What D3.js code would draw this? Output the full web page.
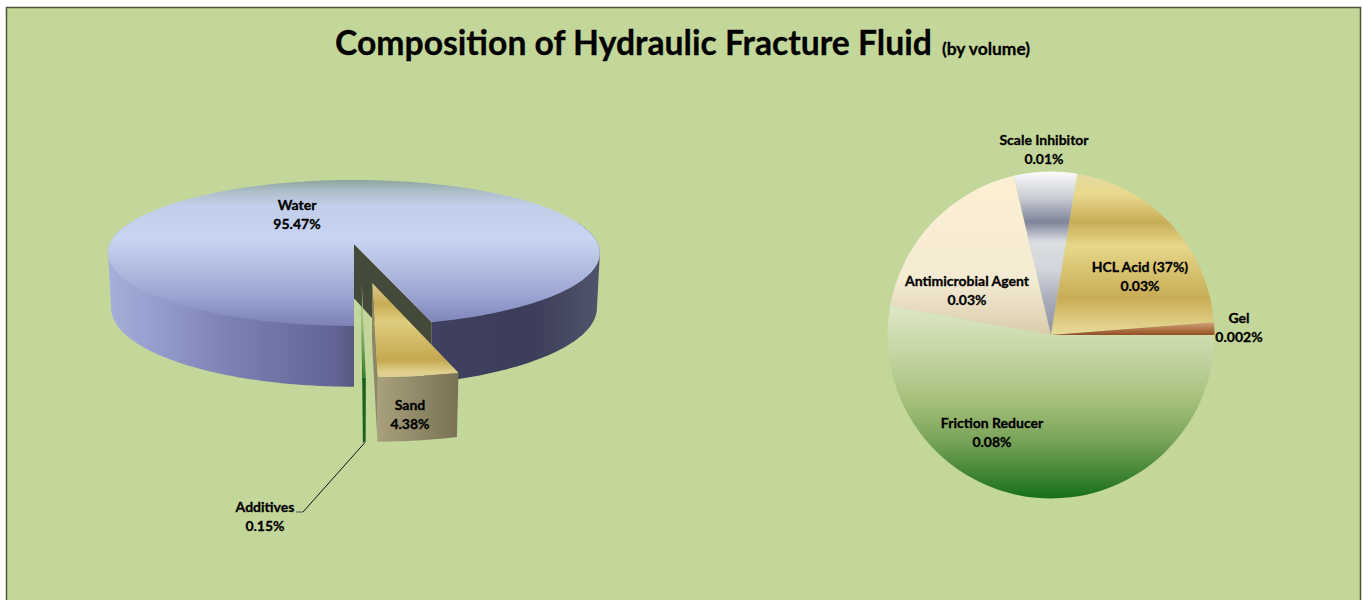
<!DOCTYPE html>
<html>
<head>
<meta charset="utf-8">
<script src="https://cdn.jsdelivr.net/npm/d3@7"></script>
<style>
  html, body { margin: 0; padding: 0; background: #fff; overflow: hidden; }
  text { font-family: Lato, "Open Sans", sans-serif; font-weight: 700; fill: #000; stroke: #000; stroke-width: 0.3px; }
</style>
</head>
<body>
<div id="chart"></div>
<script>
// values
var mainNames = ["Water", "Sand", "Additives"];
var mainValues = [95.47, 4.38, 0.15];
var mainLabels = ["95.47%", "4.38%", "0.15%"];

// the printed labels are rounded, slice sizes estimated from the slice angles
var addNames = ["Friction Reducer", "Antimicrobial Agent", "Scale Inhibitor", "HCL Acid (37%)", "Gel"];
var addValues = [0.0804, 0.0281, 0.0095, 0.0322, 0.0019];
var addLabels = ["0.08%", "0.03%", "0.01%", "0.03%", "0.002%"];

var width = 1362, height = 600;

var svg = d3.select("#chart").append("svg")
  .attr("width", width)
  .attr("height", height);
var defs = svg.append("defs");

function gradient(id, x1, y1, x2, y2, stops) {
  var g = defs.append("linearGradient")
    .attr("id", id)
    .attr("gradientUnits", "userSpaceOnUse")
    .attr("x1", x1).attr("y1", y1).attr("x2", x2).attr("y2", y2);
  stops.forEach(function(s) {
    g.append("stop")
      .attr("offset", (s[0] - (y2 != y1 ? y1 : x1)) / (y2 != y1 ? y2 - y1 : x2 - x1))
      .attr("stop-color", s[1]);
  });
  return "url(#" + id + ")";
}

// background panel, no bottom line in the original
svg.append("rect")
  .attr("x", 6.5).attr("y", 7.5)
  .attr("width", 1354).attr("height", 640)
  .attr("fill", "#c4d79b")
  .attr("stroke", "#4c573a")
  .attr("stroke-width", 1.5);

// title
var title = svg.append("text").attr("x", 335).attr("y", 55).attr("font-size", 33.7);
title.append("tspan").text("Composition of Hydraulic Fracture Fluid");
title.append("tspan").attr("dx", 10).attr("font-size", 17.4).text("(by volume)");

// ---- left pie, perspective view of a disc
var cx = 354, cy = 244;
var bx = 244, ay = 71.9, persp = 0.123, depth = 55, depthPersp = 0.012;

// u,v on the unit disc (v towards the viewer), z 0 = top face, 1 = bottom face
function project(u, v, z) {
  var d = 1 - persp * v + depthPersp * z;
  return [cx + bx * u / d, cy + (ay * v + depth * z) / d];
}

var mainPie = d3.pie().sort(null).startAngle(Math.PI).endAngle(3 * Math.PI)(mainValues);
// exploded offset on the disc for each slice
var explode = [[0, 0], [0.07, 0.508], [0.03, 0.514]];

function rim(a0, a1, i, z) {
  var n = Math.max(2, Math.ceil((a1 - a0) * 40));
  return d3.range(n + 1).map(function(k) {
    var a = a0 + (a1 - a0) * k / n;
    return project(Math.sin(a) + explode[i][0], -Math.cos(a) + explode[i][1], z);
  });
}
function apex(i, z) {
  return project(explode[i][0], explode[i][1], z);
}
var line = d3.line().curve(d3.curveLinear);
function poly(pts) { return line(pts) + "Z"; }

function edge(angle, i, z) {
  return project(Math.sin(angle) + explode[i][0], -Math.cos(angle) + explode[i][1], z);
}
// wall between top and bottom rim, as a convex shape so the silhouette is right
function wall(a0, a1, i) {
  return poly(d3.polygonHull(rim(a0, a1, i, 0).concat(rim(a0, a1, i, 1))));
}

var waterTop = gradient("waterTop", 0, 180, 0, 327, [
  [180, "#8ea59c"], [192, "#aebfca"], [206, "#c2cfea"], [240, "#c7d4f2"],
  [262, "#b6c2e4"], [292, "#9fa8d5"], [327, "#7a82b6"]
]);
var waterSide = gradient("waterSide", 108, 0, 600, 0, [
  [108, "#a6b0dc"], [230, "#7b81b3"], [335, "#626596"], [354, "#55587f"],
  [440, "#3f405f"], [530, "#3c3d59"], [600, "#50546b"]
]);
var sandTop = gradient("sandTop", 0, 283, 0, 378, [
  [283, "#dccb8c"], [304, "#c8ab57"], [322, "#dfcd7e"], [344, "#d0b764"],
  [360, "#c4a84f"], [372, "#e0d08c"], [378, "#ddcf93"]
]);
var sandFront = gradient("sandFront", 376, 0, 458, 0, [
  [376, "#aaa17d"], [458, "#787254"]
]);
var addTop = gradient("addTop", 0, 283, 0, 380, [
  [283, "#c7dba6"], [320, "#a8c78a"], [380, "#2f7d2c"]
]);

var left = svg.append("g");
var w = mainPie[0];

// outer wall of the water slice, left and right of the gap
left.append("path")
  .attr("d", wall(w.startAngle, 1.5 * Math.PI + 0.3, 0))
  .attr("fill", waterSide);
left.append("path")
  .attr("d", wall(2.5 * Math.PI - 0.3, w.endAngle, 0))
  .attr("fill", waterSide);
// cut face seen through the gap
left.append("path")
  .attr("d", poly([apex(0, 0), edge(w.endAngle, 0, 0), edge(w.endAngle, 0, 1), apex(0, 1)]))
  .attr("fill", "#444a39");
// water top
left.append("path")
  .attr("d", poly([apex(0, 0)].concat(rim(w.startAngle, w.endAngle, 0, 0))))
  .attr("fill", waterTop);

// additives, then sand
[2, 1].forEach(function(i) {
  var d = mainPie[i];
  var sideFill = i == 1 ? "#8d8768" : "#1f6a22";
  var topFill = i == 1 ? sandTop : addTop;
  var frontFill = i == 1 ? sandFront : "#1c611f";
  left.append("path")
    .attr("d", poly([apex(i, 0), edge(d.endAngle, i, 0), edge(d.endAngle, i, 1), apex(i, 1)]))
    .attr("fill", sideFill);
  left.append("path")
    .attr("d", poly(rim(d.startAngle, d.endAngle, i, 0).concat(rim(d.startAngle, d.endAngle, i, 1).reverse())))
    .attr("fill", frontFill);
  left.append("path")
    .attr("d", poly([apex(i, 0)].concat(rim(d.startAngle, d.endAngle, i, 0))))
    .attr("fill", topFill);
});

// leader line for Additives
left.append("path")
  .attr("d", line([[364.5, 443], [303, 512]]))
  .attr("fill", "none").attr("stroke", "#111").attr("stroke-width", 1);
left.append("path")
  .attr("d", line([[303, 512], [296, 512]]))
  .attr("fill", "none").attr("stroke", "#555").attr("stroke-width", 1);

// ---- right pie
var rcx = 1051, rcy = 335, r = 163.5;
var addPie = d3.pie().sort(null).startAngle(Math.PI / 2).endAngle(2.5 * Math.PI)(addValues);
var arc = d3.arc().innerRadius(0).outerRadius(r);

var addFills = [
  gradient("fr", 0, 305, 0, 498, [
    [305, "#dde8c8"], [345, "#c9d9a9"], [400, "#a6c07c"], [440, "#7aa45a"],
    [475, "#3f8434"], [498, "#17701a"]
  ]),
  gradient("am", 0, 172, 0, 334, [
    [172, "#fdefd3"], [280, "#f4ebd3"], [334, "#dbcdae"]
  ]),
  gradient("si", 0, 171, 0, 334, [
    [171, "#fdfdfd"], [198, "#c9ccd3"], [222, "#7f8499"], [242, "#dcdee3"],
    [270, "#d2d5dc"], [300, "#a9acb9"], [334, "#8f92a4"]
  ]),
  gradient("hcl", 0, 172, 0, 334, [
    [172, "#e5daa4"], [195, "#e8d98c"], [222, "#c8ac58"], [246, "#e6d88a"],
    [298, "#c8ac55"], [325, "#e0d088"], [334, "#e6d99a"]
  ]),
  gradient("gel", 0, 321, 0, 336, [
    [321, "#dcac80"], [336, "#8c481c"]
  ])
];
// gradients are given in page y, the arcs are centred on the origin
defs.selectAll("#fr,#am,#si,#hcl,#gel")
  .attr("gradientTransform", "translate(" + (-rcx) + "," + (-rcy) + ")");

svg.append("g")
  .attr("transform", "translate(" + rcx + "," + rcy + ")")
  .selectAll("path")
  .data(addPie)
  .enter()
  .append("path")
  .attr("d", arc)
  .attr("fill", function(d, i) { return addFills[i]; });

// ---- labels
function label(x, y, name, value) {
  var t = svg.append("text").attr("text-anchor", "middle").attr("font-size", 14);
  t.append("tspan").attr("x", x).attr("y", y).text(name);
  t.append("tspan").attr("x", x).attr("y", y + 19).text(value);
}

var mainSpots = [[297, 210], [410, 410], [265, 512]];
mainNames.forEach(function(n, i) {
  label(mainSpots[i][0], mainSpots[i][1], n, mainLabels[i]);
});
var addSpots = [[992, 428], [967, 286], [1044, 145], [1140, 272], [1239, 323]];
addNames.forEach(function(n, i) {
  label(addSpots[i][0], addSpots[i][1], n, addLabels[i]);
});
</script>
</body>
</html>
